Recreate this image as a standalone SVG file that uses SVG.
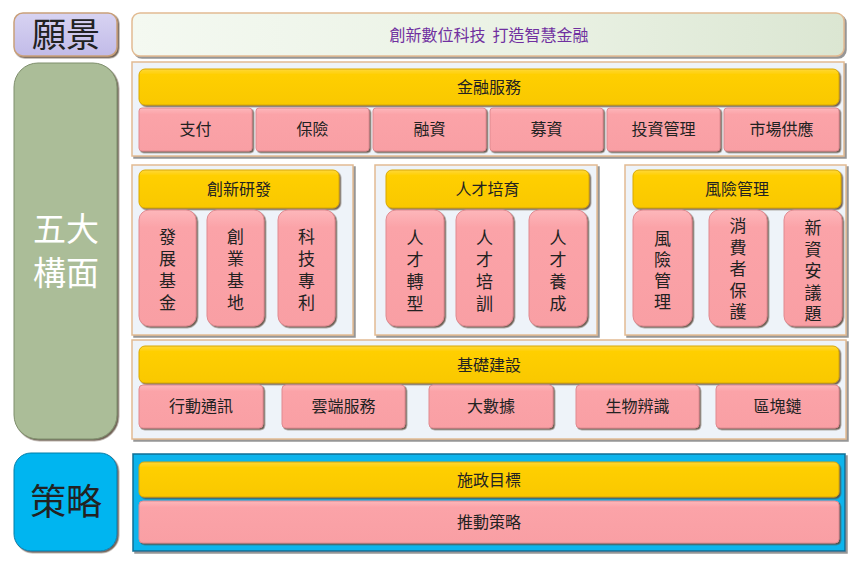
<svg xmlns="http://www.w3.org/2000/svg" width="861" height="575" viewBox="0 0 861 575">
<defs>
<linearGradient id="gVision" x1="0" y1="0" x2="1" y2="0">
<stop offset="0" stop-color="#f4f9f1"/><stop offset="0.6" stop-color="#e9f1e3"/><stop offset="1" stop-color="#dbe6d2"/>
</linearGradient>
<linearGradient id="gLav" x1="0" y1="0" x2="0" y2="1">
<stop offset="0" stop-color="#d7d3f2"/><stop offset="1" stop-color="#c2bbe8"/>
</linearGradient>
<linearGradient id="gYel" x1="0" y1="0" x2="0" y2="1">
<stop offset="0" stop-color="#ffd83a"/><stop offset="0.15" stop-color="#ffcf00"/><stop offset="1" stop-color="#f9c800"/>
</linearGradient>
<linearGradient id="gPink" x1="0" y1="0" x2="0" y2="1">
<stop offset="0" stop-color="#fdb7bb"/><stop offset="0.15" stop-color="#fba3a8"/><stop offset="1" stop-color="#f99fa4"/>
</linearGradient>
<filter id="sh" x="-10%" y="-10%" width="120%" height="130%">
<feDropShadow dx="1.5" dy="1.5" stdDeviation="0.6" flood-color="#5a4a3a" flood-opacity="0.85"/>
</filter>
<filter id="shp" x="-10%" y="-10%" width="120%" height="130%">
<feDropShadow dx="2" dy="2" stdDeviation="0.5" flood-color="#8a8a8a" flood-opacity="0.9"/>
</filter>
<style>
.t{font-family:"Noto Sans CJK TC","Noto Sans CJK SC",sans-serif;fill:#222;text-anchor:middle}
.s16{font-size:16px}
.v{font-size:17px;writing-mode:vertical-rl;letter-spacing:5px}
.v5{font-size:17px;writing-mode:vertical-rl;letter-spacing:4.6px}
.yel{fill:url(#gYel);stroke:#d9a800;stroke-width:1;filter:url(#sh)}
.pink{fill:url(#gPink);stroke:#e08a90;stroke-width:1;filter:url(#sh)}
.panel{fill:#eef3f9;stroke:#e2bb92;stroke-width:1.5;filter:url(#shp)}
</style>
</defs>

<g id="vision-label">
<rect x="14" y="13" width="103" height="43" rx="9" fill="url(#gLav)" stroke="#c9a07a" stroke-width="1.5" filter="url(#sh)"/>
<text class="t" x="66" y="47" font-size="34">願景</text>
</g>
<g id="vision-bar">
<rect x="132" y="13" width="712" height="43" rx="8" fill="url(#gVision)" stroke="#e2bb92" stroke-width="1.5" filter="url(#shp)"/>
<text class="t s16" x="489" y="41" style="fill:#7030a0;white-space:pre">創新數位科技  打造智慧金融</text>
</g>

<g id="five-label">
<rect x="14" y="63" width="103" height="376" rx="24" fill="#abbd98" stroke="#7f8f6d" stroke-width="1" filter="url(#sh)"/>
<text class="t" font-size="33" style="fill:#ffffff"><tspan x="66" y="241">五大</tspan><tspan x="66" y="285">構面</tspan></text>
</g>

<g id="strategy-label">
<rect x="14" y="453" width="103" height="98" rx="17" fill="#00b5f0" stroke="#0a7fa8" stroke-width="1" filter="url(#sh)"/>
<text class="t" x="66" y="515" font-size="36">策略</text>
</g>

<g id="finance">
<rect class="panel" x="132" y="62" width="712" height="94"/>
<rect class="yel" x="139" y="69" width="700" height="36" rx="6"/>
<text class="t s16" x="489" y="93">金融服務</text>
<rect class="pink" x="139" y="108" width="113" height="43" rx="3"/>
<text class="t s16" x="195.5" y="135">支付</text>
<rect class="pink" x="256" y="108" width="113" height="43" rx="3"/>
<text class="t s16" x="312.5" y="135">保險</text>
<rect class="pink" x="373" y="108" width="113" height="43" rx="3"/>
<text class="t s16" x="429.5" y="135">融資</text>
<rect class="pink" x="490" y="108" width="113" height="43" rx="3"/>
<text class="t s16" x="546.5" y="135">募資</text>
<rect class="pink" x="607" y="108" width="113" height="43" rx="3"/>
<text class="t s16" x="663.5" y="135">投資管理</text>
<rect class="pink" x="724" y="108" width="115" height="43" rx="3"/>
<text class="t s16" x="781.5" y="135">市場供應</text>
</g>

<g id="innovation">
<rect class="panel" x="132" y="165" width="221" height="170"/>
<rect class="yel" x="139" y="170" width="200" height="38" rx="6"/>
<text class="t s16" x="239" y="195">創新研發</text>
<rect class="pink" x="139" y="210" width="57" height="116" rx="10"/>
<text class="t v" x="167.5" y="272">發展基金</text>
<rect class="pink" x="207" y="210" width="57" height="116" rx="10"/>
<text class="t v" x="235.5" y="272">創業基地</text>
<rect class="pink" x="278" y="210" width="57" height="116" rx="10"/>
<text class="t v" x="306.5" y="272">科技專利</text>
</g>

<g id="talent">
<rect class="panel" x="375" y="165" width="222" height="170"/>
<rect class="yel" x="386" y="170" width="203" height="38" rx="6"/>
<text class="t s16" x="487.5" y="195">人才培育</text>
<rect class="pink" x="386" y="210" width="58" height="116" rx="10"/>
<text class="t v" x="415" y="273">人才轉型</text>
<rect class="pink" x="456" y="210" width="57" height="116" rx="10"/>
<text class="t v" x="484.5" y="273">人才培訓</text>
<rect class="pink" x="529" y="210" width="58" height="116" rx="10"/>
<text class="t v" x="558" y="273">人才養成</text>
</g>

<g id="risk">
<rect class="panel" x="625" y="165" width="221" height="170"/>
<rect class="yel" x="633" y="170" width="208" height="38" rx="6"/>
<text class="t s16" x="737" y="195">風險管理</text>
<rect class="pink" x="633" y="210" width="59" height="116" rx="10"/>
<text class="t v" x="662.5" y="272" style="letter-spacing:4px">風險管理</text>
<rect class="pink" x="709" y="210" width="58" height="116" rx="10"/>
<text class="t v5" x="738" y="271">消費者保護</text>
<rect class="pink" x="784" y="210" width="58" height="116" rx="10"/>
<text class="t v5" x="813" y="273">新資安議題</text>
</g>

<g id="infra">
<rect class="panel" x="132" y="340" width="714" height="99"/>
<rect class="yel" x="139" y="346" width="700" height="37" rx="6"/>
<text class="t s16" x="489" y="371">基礎建設</text>
<rect class="pink" x="139" y="385" width="124" height="43" rx="4"/>
<text class="t s16" x="201" y="412">行動通訊</text>
<rect class="pink" x="282" y="385" width="123" height="43" rx="4"/>
<text class="t s16" x="343.5" y="412">雲端服務</text>
<rect class="pink" x="429" y="385" width="124" height="43" rx="4"/>
<text class="t s16" x="491" y="412">大數據</text>
<rect class="pink" x="576" y="385" width="123" height="43" rx="4"/>
<text class="t s16" x="637.5" y="412">生物辨識</text>
<rect class="pink" x="716" y="385" width="123" height="43" rx="4"/>
<text class="t s16" x="777.5" y="412">區塊鏈</text>
</g>

<g id="strategy">
<rect x="133" y="454" width="712" height="97" fill="#0ab4ec" stroke="#0a6f95" stroke-width="1.5" filter="url(#shp)"/>
<rect class="yel" x="139" y="462" width="700" height="35" rx="5"/>
<text class="t s16" x="489" y="486">施政目標</text>
<rect class="pink" x="139" y="501" width="700" height="42" rx="4"/>
<text class="t s16" x="489" y="528">推動策略</text>
</g>

<g id="connectors"></g>
</svg>
